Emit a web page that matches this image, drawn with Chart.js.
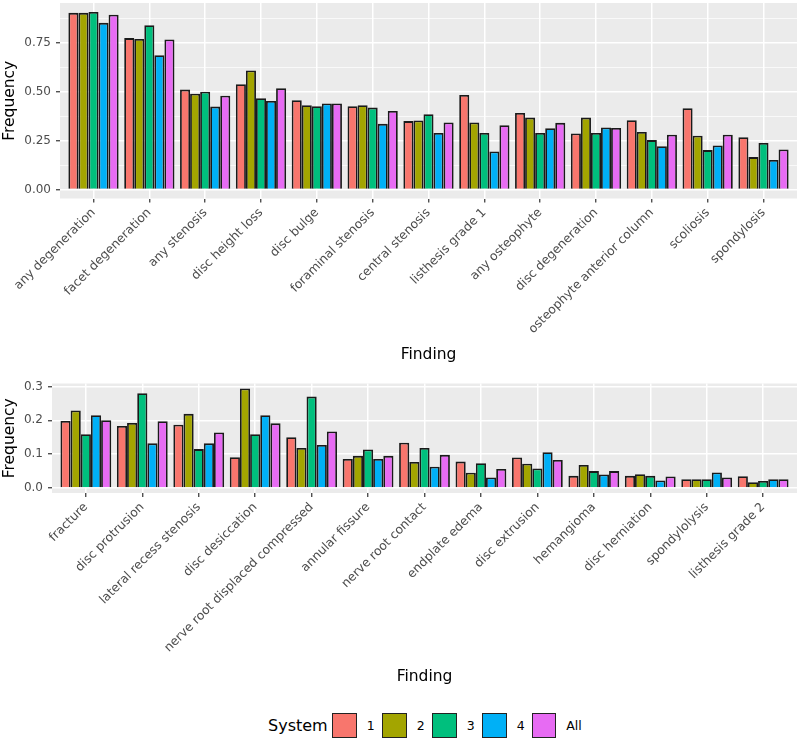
<!DOCTYPE html>
<html lang="en">
<head>
    <meta charset="UTF-8">
    <title>Findings by System</title>
    <style>
        body { margin: 0; width: 800px; height: 742px; background: #fff; position: relative; font-family: "DejaVu Sans", sans-serif; }
        .panel { position: absolute; left: 0; width: 800px; }
        #top { top: 0; height: 370px; }
        #bottom { top: 370px; height: 322px; }
        #legend { position: absolute; top: 712px; left: 268px; height: 26px; display: flex; align-items: center; }
        #legend .title { font-size: 16px; color: #000; margin-right: 4px; }
        #legend .item { display: flex; align-items: center; width: 50px; }
        #legend .key { width: 23px; height: 23px; border: 1px solid #222; box-sizing: content-box; }
        #legend .lab { font-size: 12.5px; color: #000; margin-left: 10px; }
    </style>
</head>
<body>
    <div class="panel" id="top"><canvas id="chartTop" width="800" height="370"></canvas></div>
    <div class="panel" id="bottom"><canvas id="chartBottom" width="800" height="322"></canvas></div>
    <div id="legend"></div>
    <script src="https://cdn.jsdelivr.net/npm/chart.js"></script>
    <script>
        // series names and colours (ggplot default hues)
        const systems = ['1', '2', '3', '4', 'All'];
        const colors = ['#F8766D', '#A3A500', '#00BF7D', '#00B0F6', '#E76BF3'];

        // upper panel
        const findingsTop = ['any degeneration', 'facet degeneration', 'any stenosis', 'disc height loss',
            'disc bulge', 'foraminal stenosis', 'central stenosis', 'listhesis grade 1', 'any osteophyte',
            'disc degeneration', 'osteophyte anterior column', 'scoliosis', 'spondylosis'];
        const top1 = [0.903, 0.774, 0.511, 0.538, 0.457, 0.426, 0.350, 0.484, 0.392, 0.287, 0.355, 0.416, 0.268];
        const top2 = [0.903, 0.770, 0.490, 0.609, 0.431, 0.431, 0.353, 0.343, 0.368, 0.368, 0.294, 0.275, 0.166];
        const top3 = [0.908, 0.840, 0.500, 0.467, 0.426, 0.419, 0.385, 0.289, 0.289, 0.289, 0.253, 0.202, 0.238];
        const top4 = [0.852, 0.687, 0.424, 0.453, 0.440, 0.336, 0.289, 0.195, 0.314, 0.317, 0.222, 0.226, 0.151];
        const topAll = [0.893, 0.767, 0.480, 0.518, 0.440, 0.402, 0.343, 0.329, 0.341, 0.315, 0.280, 0.280, 0.205];
        const ticksTop = [0, 0.25, 0.5, 0.75];

        // lower panel
        const findingsBottom = ['fracture', 'disc protrusion', 'lateral recess stenosis', 'disc desiccation',
            'nerve root displaced compressed', 'annular fissure', 'nerve root contact', 'endplate edema',
            'disc extrusion', 'hemangioma', 'disc herniation', 'spondylolysis', 'listhesis grade 2'];
        const bot1 = [0.198, 0.183, 0.187, 0.091, 0.150, 0.086, 0.134, 0.078, 0.090, 0.036, 0.036, 0.026, 0.035];
        const bot2 = [0.229, 0.192, 0.219, 0.294, 0.118, 0.095, 0.077, 0.045, 0.072, 0.068, 0.041, 0.026, 0.017];
        const bot3 = [0.159, 0.280, 0.115, 0.159, 0.270, 0.114, 0.118, 0.073, 0.058, 0.050, 0.036, 0.026, 0.021];
        const bot4 = [0.215, 0.132, 0.132, 0.215, 0.127, 0.086, 0.063, 0.031, 0.106, 0.040, 0.022, 0.046, 0.026];
        const botAll = [0.200, 0.197, 0.164, 0.191, 0.167, 0.095, 0.098, 0.056, 0.083, 0.050, 0.034, 0.031, 0.026];
        const ticksBottom = [0, 0.1, 0.2, 0.3];

        // grey panel background
        const panelBg = {
            id: 'panelBg',
            beforeDraw(chart) {
                const a = chart.chartArea;
                const ctx = chart.ctx;
                ctx.save();
                ctx.fillStyle = '#EBEBEB';
                ctx.fillRect(a.left, a.top, a.right - a.left, a.bottom - a.top);
                ctx.restore();
            }
        };

        function makeChart(id, labels, series, majors, decimals, yMin, yMax, pad, yWidth, xHeight) {
            // minor lines half way between majors
            const step = majors[1] - majors[0];
            const all = [];
            majors.forEach(v => { all.push(v); all.push(+(v + step / 2).toFixed(4)); });
            const isMajor = v => majors.some(m => Math.abs(m - v) < 1e-6);

            return new Chart(document.getElementById(id), {
                type: 'bar',
                data: {
                    labels: labels,
                    datasets: series.map((d, i) => ({
                        label: systems[i],
                        data: d,
                        backgroundColor: colors[i],
                        borderColor: '#1a1a1a',
                        borderWidth: 1.8,
                        categoryPercentage: 0.9,
                        barPercentage: 1.0
                    }))
                },
                options: {
                    responsive: false,
                    animation: false,
                    layout: { padding: pad },
                    plugins: { legend: { display: false }, tooltip: { enabled: false } },
                    scales: {
                        x: {
                            offset: false,
                            grid: { offset: false, color: '#fff', lineWidth: 1.5, tickColor: '#333', tickWidth: 1.2, tickLength: 4 },
                            border: { display: false },
                            ticks: {
                                autoSkip: false, minRotation: 45, maxRotation: 45, padding: 3,
                                color: '#4D4D4D', font: { family: 'DejaVu Sans', size: 12.3 }
                            },
                            title: { display: true, text: 'Finding', color: '#000',
                                font: { family: 'DejaVu Sans', size: 15.5 }, padding: { top: 4, bottom: 6 } },
                            afterBuildTicks(scale) {
                                // ggplot-like 0.6 expansion on a discrete axis
                                scale._startValue = -0.6;
                                scale._valueRange = labels.length - 1 + 1.2;
                            },
                            afterFit(scale) {
                                scale.height = xHeight;
                                scale.paddingLeft = 0;
                                scale.paddingRight = 0;
                            }
                        },
                        y: {
                            min: yMin, max: yMax,
                            grid: {
                                color: '#fff',
                                lineWidth: c => isMajor(c.tick.value) ? 1.5 : 0.7,
                                tickColor: c => isMajor(c.tick.value) ? '#333' : 'rgba(0,0,0,0)',
                                tickWidth: 1.2, tickLength: 4
                            },
                            border: { display: false },
                            ticks: {
                                padding: 5, color: '#4D4D4D', font: { family: 'DejaVu Sans', size: 12 },
                                callback: v => isMajor(v) ? v.toFixed(decimals) : ''
                            },
                            afterBuildTicks(scale) { scale.ticks = all.map(v => ({ value: v })); },
                            title: { display: true, text: 'Frequency', color: '#000',
                                font: { family: 'DejaVu Sans', size: 15.5 }, padding: { top: 1, bottom: 0 } },
                            afterFit(scale) {
                                scale.width = yWidth;
                                scale.paddingTop = 0;
                                scale.paddingBottom = 0;
                            }
                        }
                    }
                },
                plugins: [panelBg]
            });
        }

        makeChart('chartTop', findingsTop, [top1, top2, top3, top4, topAll], ticksTop, 2,
            -0.0454, 0.9534, { top: 3, right: 3, left: 0, bottom: 0 }, 60, 171.5);
        makeChart('chartBottom', findingsBottom, [bot1, bot2, bot3, bot4, botAll], ticksBottom, 1,
            -0.0147, 0.3087, { top: 13.5, right: 3, left: 0, bottom: 0 }, 52, 199);

        // legend
        const legend = document.getElementById('legend');
        const t = document.createElement('span');
        t.className = 'title';
        t.textContent = 'System';
        legend.appendChild(t);
        systems.forEach((s, i) => {
            const item = document.createElement('span');
            item.className = 'item';
            item.innerHTML = '<span class="key" style="background:' + colors[i] + '"></span><span class="lab">' + s + '</span>';
            legend.appendChild(item);
        });
    </script>
</body>
</html>
